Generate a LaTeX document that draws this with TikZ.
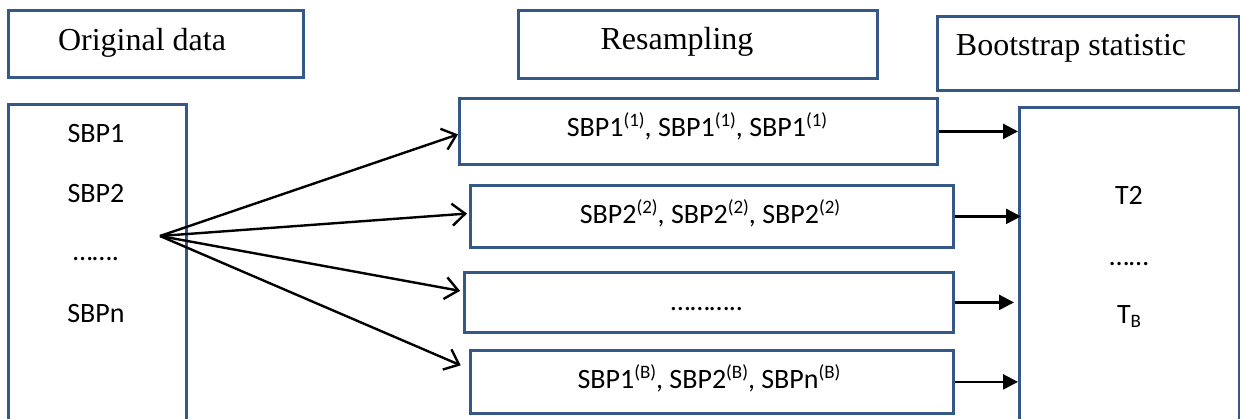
\documentclass[tikz,border=0pt]{standalone}
\usepackage{fontspec}
\setmainfont{Liberation Serif}
\newfontfamily\calib{Carlito}
\usetikzlibrary{arrows.meta,positioning}
\definecolor{boxblue}{RGB}{52,88,136}
% superscript and subscript in the small body size
\newcommand\supx[1]{\raisebox{10pt}{\fontsize{19}{19}\selectfont(#1)}}
\newcommand\subx[1]{\raisebox{-4pt}{\fontsize{19}{19}\selectfont #1}}
\tikzset{
  frame/.style={draw=boxblue, line width=2.8pt, rectangle, inner sep=0pt, anchor=north west},
  title/.style={font=\fontsize{32}{36}\selectfont, inner sep=0pt, anchor=base},
  body/.style={font=\calib\fontsize{28}{32}\selectfont, inner sep=0pt, anchor=base},
  fan/.style={draw=black, line width=2.4pt, -{Straight Barb[length=13pt,width=22pt,line width=2.4pt]}},
  feed/.style={draw=black, line width=2.4pt, -{Triangle[length=15pt,width=15pt]}},
}
\begin{document}
\begin{tikzpicture}[x=1pt,y=-1pt]
\useasboundingbox (0,0) rectangle (1240,418);
\clip (0,0) rectangle (1240,418);
\fill[white] (0,0) rectangle (1240,418);

% column headings
\node[frame, minimum width=295pt, minimum height=67pt] (origbox) at (7,9) {};
\node[title] (origT) at (142,50) {Original data};
\node[frame, minimum width=359pt, minimum height=68pt] (resbox) at (517,9) {};
\node[title] (resT) at (677,49) {Resampling};
\node[frame, minimum width=302pt, minimum height=74pt] (bootbox) at (936,15) {};
\node[title] (bootT) at (1071,55) {Bootstrap statistic};

% original sample
\node[frame, minimum width=178pt, minimum height=340pt] (orig) at (7,103) {};
\node[body] (s1) at (96,142) {SBP1};
\node[body] (s2) at (96,202) {SBP2};
\node[body] (s3) at (96,260) {…….};
\node[body] (sn) at (96,322) {SBPn};

% resamples
\node[frame, minimum width=478pt, minimum height=66pt] (b1) at (458,97) {};
\node[body] (b1T) at (697,136) {SBP1\supx{1}, SBP1\supx{1}, SBP1\supx{1}};
\node[frame, minimum width=483pt, minimum height=62pt] (b2) at (469,184) {};
\node[body] (b2T) at (710,223) {SBP2\supx{2}, SBP2\supx{2}, SBP2\supx{2}};
\node[frame, minimum width=489pt, minimum height=60pt] (b3) at (463,271) {};
\node[body] (b3T) at (707,310) {………..};
\node[frame, minimum width=483pt, minimum height=63pt] (b4) at (469,349) {};
\node[body] (b4T) at (709,388) {SBP1\supx{B}, SBP2\supx{B}, SBPn\supx{B}};

% bootstrap statistics
\node[frame, minimum width=220pt, minimum height=340pt] (stat) at (1018,106) {};
\node[body] (t2) at (1129,204) {T2};
\node[body] (t3) at (1129,265) {……};
\node[body] (tb) at (1129,323) {T\subx{B}};

% resampling arrows
\coordinate (src) at (160,236);
\draw[fan] (src) -- ([yshift=-3pt]b1.west);
\draw[fan, shorten >=2pt] (src) -- ([yshift=3pt]b2.west);
\draw[fan, shorten >=3pt] (src) -- ([yshift=11pt]b3.west);
\draw[fan, shorten >=9pt] (src) -- ([yshift=13pt]b4.west);

% statistic arrows
\draw[feed] (b1.east) -- (b1.east -| stat.west);
\draw[feed] (b2.east) -- ([xshift=3pt]b2.east -| stat.west);
\draw[feed] (b3.east) -- ([xshift=-4pt]b3.east -| stat.west);
\draw[feed] (b4.east) -- (b4.east -| stat.west);
\end{tikzpicture}
\end{document}
